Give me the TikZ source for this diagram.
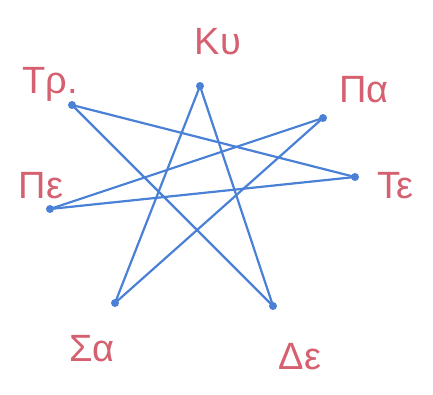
\documentclass[tikz,border=0pt]{standalone}
\usepackage{fontspec}
\setmainfont{Liberation Sans}
\definecolor{penblue}{RGB}{74,128,214}
\definecolor{penred}{RGB}{212,96,112}
\tikzset{
  day/.style={text=penred, font=\fontsize{38}{40}\selectfont},
  pin/.style={circle, fill=penblue, inner sep=0pt, minimum size=8pt}
}
\begin{document}
\begin{tikzpicture}[x=1pt,y=-1pt]
\useasboundingbox (0,0) rectangle (433,394);
\node[pin] (ku) at (200,86) {};
\node[pin] (pa) at (323,118) {};
\node[pin] (te) at (355,177) {};
\node[pin] (de) at (273,306) {};
\node[pin] (sa) at (115,303) {};
\node[pin] (pe) at (50,209) {};
\node[pin] (tr) at (72,105) {};
\foreach \a/\b in {ku/de,de/tr,tr/te,te/pe,pe/pa,pa/sa,sa/ku} {
  \draw[penblue, line width=2.2pt] (\a.center) -- (\b.center);
}
\node[day] (lku) at (218,42) {Κυ};
\node[day] (lpa) at (364,90) {Πα};
\node[day] (lte) at (395,186) {Τε};
\node[day] (lde) at (300,357) {Δε};
\node[day] (lsa) at (92,349) {Σα};
\node[day] (lpe) at (41,186) {Πε};
\node[day] (ltr) at (50,84) {Τρ.};
\end{tikzpicture}
\end{document}
